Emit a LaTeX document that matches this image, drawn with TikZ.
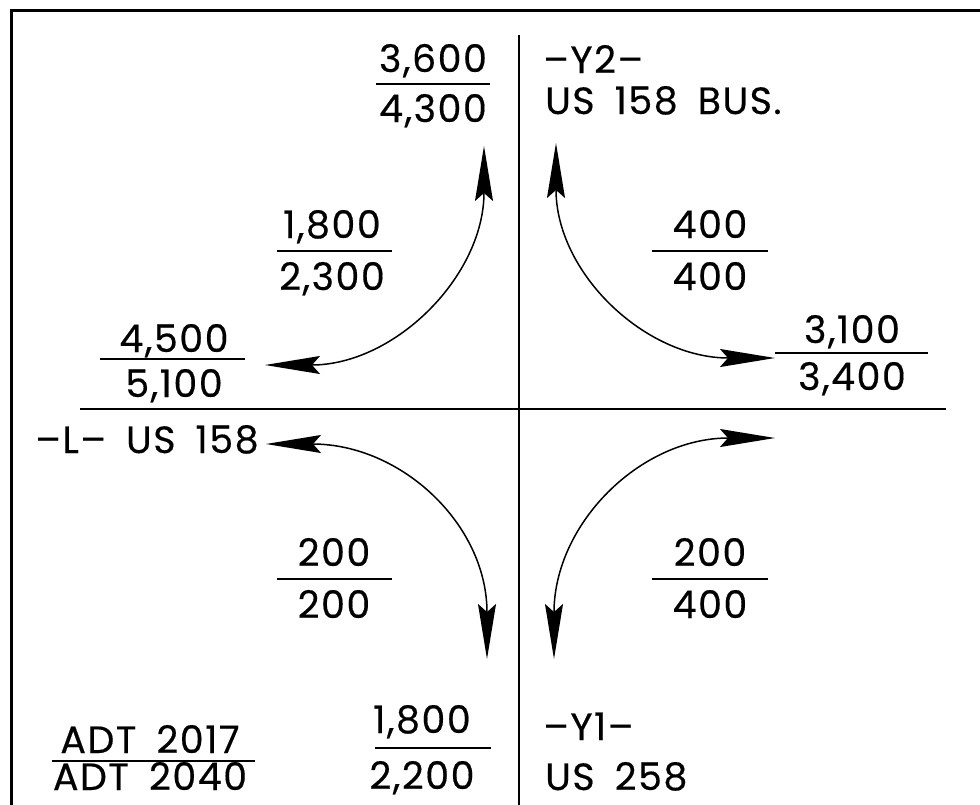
\documentclass[tikz,border=0pt]{standalone}
\usepackage{fontspec}
\setmainfont[LetterSpace=4,FakeBold=0.4]{Poppins}
\usetikzlibrary{arrows.meta}
\newcommand\frc[9]{%
  \node[lbl] (#1n) at (#2,#3) {#7};
  \draw[fracrule] (#5,#4) -- (#6,#4);
  \node[lbl] (#1d) at (#2,#9) {#8};}
\newcommand\gap{\hspace{20pt}}
\begin{document}
\begin{tikzpicture}[x=1pt,y=-1pt,
  lbl/.style={font=\fontsize{38}{40}\selectfont, inner sep=0pt, anchor=base},
  side/.style={font=\fontsize{38}{40}\selectfont, inner sep=0pt, anchor=base west},
  fracrule/.style={line width=2pt},
  axis/.style={line width=2pt},
  frame/.style={line width=3pt},
  turn/.style={line width=1.5pt,
    {Stealth[length=55pt,width=18pt,inset=8pt]}-{Stealth[length=55pt,width=18pt,inset=8pt]}},
]
\clip (0,0) rectangle (980,804);
\fill[white] (0,0) rectangle (980,804);
% frame
\draw[frame] (980,10) -- (11,10) -- (11,806);
% axes
\coordinate (vtop) at (519,35);
\coordinate (vbot) at (519,806);
\coordinate (hl) at (80,409);
\coordinate (hr) at (946,409);
\draw[axis] (vtop) -- (vbot);
\draw[axis] (hl) -- (hr);
% turning movement arrows
\coordinate (nwT) at (484,146); \coordinate (nwL) at (265,365);
\coordinate (neT) at (556,143); \coordinate (neR) at (775,358);
\coordinate (swL) at (266,444); \coordinate (swB) at (487,659);
\coordinate (seR) at (775,438); \coordinate (seB) at (554,659);
\draw[turn] (nwT) .. controls +(0,130) and +(130,0) .. (nwL);
\draw[turn] (neT) .. controls +(0,130) and +(-130,0) .. (neR);
\draw[turn] (swL) .. controls +(135,0) and +(0,-135) .. (swB);
\draw[turn] (seR) .. controls +(-135,0) and +(0,-135) .. (seB);
% volumes
\frc{fa}{433}{72}{84}{376}{490}{3,600}{4,300}{122}
\frc{fb}{332}{238}{251}{277}{392}{1,800}{2,300}{290}
\frc{fc}{710}{238}{251}{652}{768}{400}{400}{290}
\frc{fd}{174}{352}{359}{100}{245}{4,500}{5,100}{397}
\frc{fe}{852}{343}{353}{775}{928}{3,100}{3,400}{390}
\frc{ff}{334}{566}{579}{277}{392}{200}{200}{618}
\frc{fg}{710}{566}{579}{652}{768}{200}{400}{618}
\frc{fh}{422}{733}{748}{375}{491}{1,800}{2,200}{789}
\frc{fi}{150}{753}{761}{52}{255}{ADT\gap 2017}{ADT\gap 2040}{790}
% road labels
\node[side] (y2a) at (543,73) {–Y2–};
\node[side] (y2b) at (545,114) {US\gap 158\gap BUS.};
\node[side] (la) at (35,453) {–L–\gap US\gap 158};
\node[side] (y1a) at (543,740) {–Y1–};
\node[side] (y1b) at (545,790) {US\gap 258};
\end{tikzpicture}
\end{document}
